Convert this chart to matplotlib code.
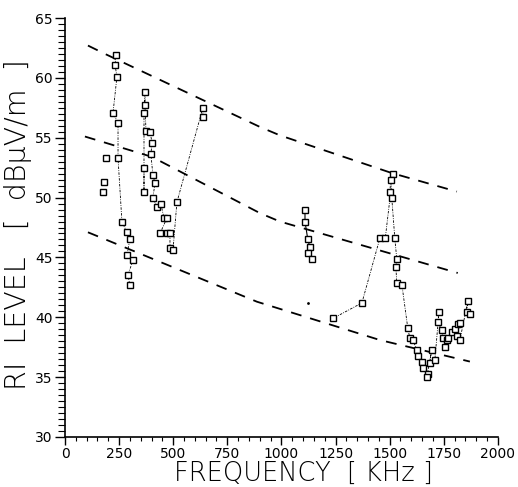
import matplotlib
matplotlib.use("Agg")
import matplotlib.pyplot as plt
from matplotlib.ticker import MultipleLocator, FixedLocator

# ---- data ----
# isolated measurements near 180 kHz
iso_freq = [190, 180, 175]
iso_level = [53.3, 51.3, 50.5]

# left group (about 220-315 kHz)
g1_freq = [236, 231, 240, 222, 245, 245, 263, 286, 300, 286, 314, 291, 300]
g1_level = [61.9, 61.1, 60.1, 57.1, 56.2, 53.3, 48.0, 47.1, 46.5, 45.2, 44.8, 43.5, 42.7]

# second group (about 330-640 kHz)
g2_freq = [365, 365, 365, 370, 370, 374, 393, 402, 397, 406, 416, 406, 425, 443,
           457, 471, 439, 471, 485, 485, 499, 517, 637, 637]
g2_level = [52.5, 50.5, 57.1, 58.8, 57.7, 55.6, 55.5, 54.6, 53.6, 51.9, 51.2, 50.0,
            49.2, 49.5, 48.3, 48.3, 47.0, 47.0, 47.0, 45.8, 45.6, 49.6, 57.5, 56.7]

# middle group (about 1100-1140 kHz)
g3_freq = [1109, 1109, 1122, 1131, 1122, 1141]
g3_level = [49.0, 48.0, 46.5, 45.9, 45.4, 44.9]
dot_freq = [1122]
dot_level = [41.2]

# right group (about 1240-1870 kHz)
g4_freq = [1238, 1372, 1455, 1480, 1515, 1506, 1501, 1510, 1524, 1533, 1529, 1533,
           1557, 1584, 1593, 1607, 1626, 1630, 1649, 1653, 1676, 1672, 1695, 1685,
           1709, 1728, 1723, 1742, 1746, 1765, 1755, 1769, 1788, 1801, 1815, 1825,
           1811, 1825, 1862, 1857, 1871]
g4_level = [39.9, 41.2, 46.6, 46.6, 52.0, 51.5, 50.5, 50.0, 46.6, 44.9, 44.2, 42.9,
            42.7, 39.1, 38.3, 38.1, 37.3, 36.8, 36.3, 35.8, 35.3, 35.0, 37.3, 36.2,
            36.4, 40.4, 39.6, 38.9, 38.3, 38.1, 37.5, 38.3, 38.8, 39.0, 39.4, 39.5,
            38.4, 38.1, 41.4, 40.4, 40.3]

# dashed limit curves
up_freq = [106, 185, 901, 993, 1510, 1811]
up_level = [62.7, 62.0, 55.9, 55.2, 52.05, 50.5]
mid_freq = [92, 402, 901, 993, 1815]
mid_level = [55.1, 53.4, 48.7, 48.0, 43.7]
low_freq = [106, 194, 887, 1455, 1871]
low_level = [47.1, 46.45, 41.3, 38.1, 36.3]

x_ticks = [0, 250, 500, 750, 1000, 1250, 1500, 1750, 2000]
x_labels = ["0", "250", "500", "750", "1000", "1250", "1500", "1750", "2000"]
y_ticks = [30, 35, 40, 45, 50, 55, 60, 65]

# ---- figure ----
fig = plt.figure(figsize=(5.18, 4.87), dpi=100)
ax = fig.add_axes([0.1255, 0.1027, 0.8355, 0.8603])

for f, l in [(up_freq, up_level), (mid_freq, mid_level), (low_freq, low_level)]:
    ax.plot(f, l, color="black", lw=1.3, linestyle=(0, (6, 5)))

mk = dict(marker="s", markersize=4, markerfacecolor="white",
          markeredgecolor="black", markeredgewidth=1.0, color="black")
ax.plot(iso_freq, iso_level, linestyle="none", **mk)
ax.plot(g1_freq, g1_level, linestyle=(0, (1, 1.5, 3, 1.5)), lw=0.6, **mk)
ax.plot(g2_freq, g2_level, linestyle=(0, (1, 1.5, 3, 1.5)), lw=0.6, **mk)
ax.plot(g3_freq, g3_level, linestyle="-", lw=0.8, **mk)
ax.plot(dot_freq, dot_level, linestyle="none", marker=".", markersize=2, color="black")
ax.plot(g4_freq, g4_level, linestyle=(0, (1, 1.5, 3, 1.5)), lw=0.6, **mk)

ax.set_xlim(0, 2000)
ax.set_ylim(30, 65)
ax.xaxis.set_major_locator(FixedLocator(x_ticks))
ax.set_xticklabels(x_labels)
ax.xaxis.set_minor_locator(MultipleLocator(50))
ax.yaxis.set_major_locator(FixedLocator(y_ticks))
ax.yaxis.set_minor_locator(MultipleLocator(0.5))

for s in ["top", "right"]:
    ax.spines[s].set_visible(False)
for s in ["left", "bottom"]:
    ax.spines[s].set_linewidth(1.2)

ax.tick_params(which="major", direction="out", length=7, width=1.0, labelsize=10)
ax.tick_params(which="minor", direction="out", length=5, width=0.8)
ax.tick_params(axis="y", which="major", pad=2)
ax.tick_params(axis="x", which="major", length=6, pad=1)
ax.tick_params(axis="x", which="minor", length=3)

ax.set_xlabel("FREQUENCY  [ KHz ]", fontsize=18.5, fontweight="light")
ax.xaxis.set_label_coords(0.552, -0.056, transform=ax.transAxes)
ax.xaxis.label.set_verticalalignment("top")
ax.set_ylabel("RI  LEVEL   [  dBμV/m  ]", fontsize=20.5, fontweight="light")
ax.yaxis.set_label_coords(-0.108, 0.506, transform=ax.transAxes)
ax.yaxis.label.set_verticalalignment("center")

fig.savefig("out.png", dpi=100)
